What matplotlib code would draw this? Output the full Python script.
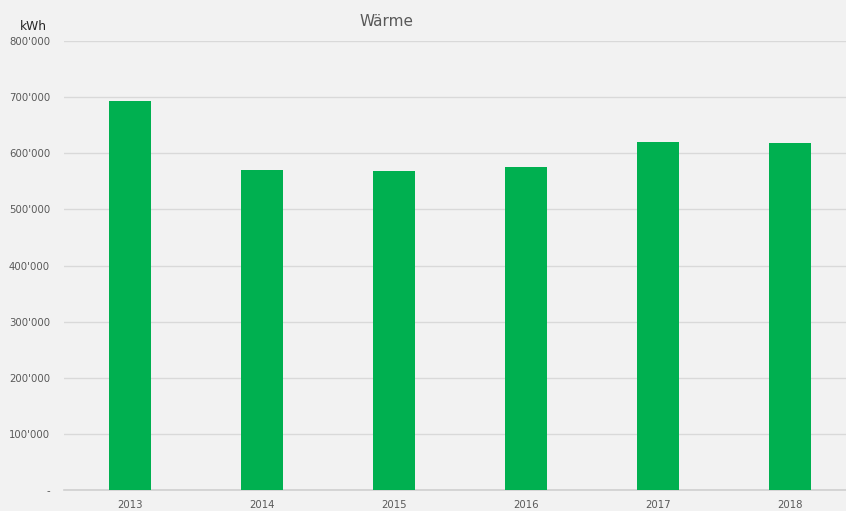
import matplotlib
matplotlib.use("Agg")
import matplotlib.pyplot as plt
from matplotlib.ticker import FuncFormatter

years = ["2013", "2014", "2015", "2016", "2017", "2018"]
values = [693000, 571000, 569000, 575000, 620000, 618000]
yticks = [0, 100000, 200000, 300000, 400000, 500000, 600000, 700000, 800000]

W, H = 846, 511
fig = plt.figure(figsize=(W/100, H/100), dpi=100, facecolor="#f2f2f2")
left, right, top, bottom = 64, 846, 41, 490
ax = fig.add_axes([left/W, 1 - bottom/H, (right-left)/W, (bottom-top)/H])
ax.set_facecolor("#f2f2f2")

x = list(range(len(years)))
ax.bar(x, values, width=0.32, color="#00b050", zorder=3)

ax.set_ylim(0, 800000)
ax.set_xlim(-0.5, 5.5 - 10/132)
ax.set_yticks(yticks)
def fmt(v, pos):
    if v == 0:
        return "-"
    return f"{int(v):,}".replace(",", "'")
ax.yaxis.set_major_formatter(FuncFormatter(fmt))
ax.set_xticks(x)
ax.set_xticklabels(years)
ax.grid(axis="y", color="#d9d9d9", linewidth=1, zorder=0)
for s in ["top", "right", "left"]:
    ax.spines[s].set_visible(False)
ax.spines["bottom"].set_color("#d0d0d0")
ax.spines["bottom"].set_linewidth(1.2)
ax.tick_params(axis="both", length=0, labelsize=7.3, labelcolor="#595959")
ax.tick_params(axis="y", pad=10)
ax.tick_params(axis="x", pad=7)

fig.text(386/W, 1 - 22/H, "Wärme", ha="center", va="center", fontsize=11, color="#595959")
fig.text(33/W, 1 - 26/H, "kWh", ha="center", va="center", fontsize=8.8, color="#262626")

fig.savefig("out.png", dpi=100, facecolor=fig.get_facecolor())
